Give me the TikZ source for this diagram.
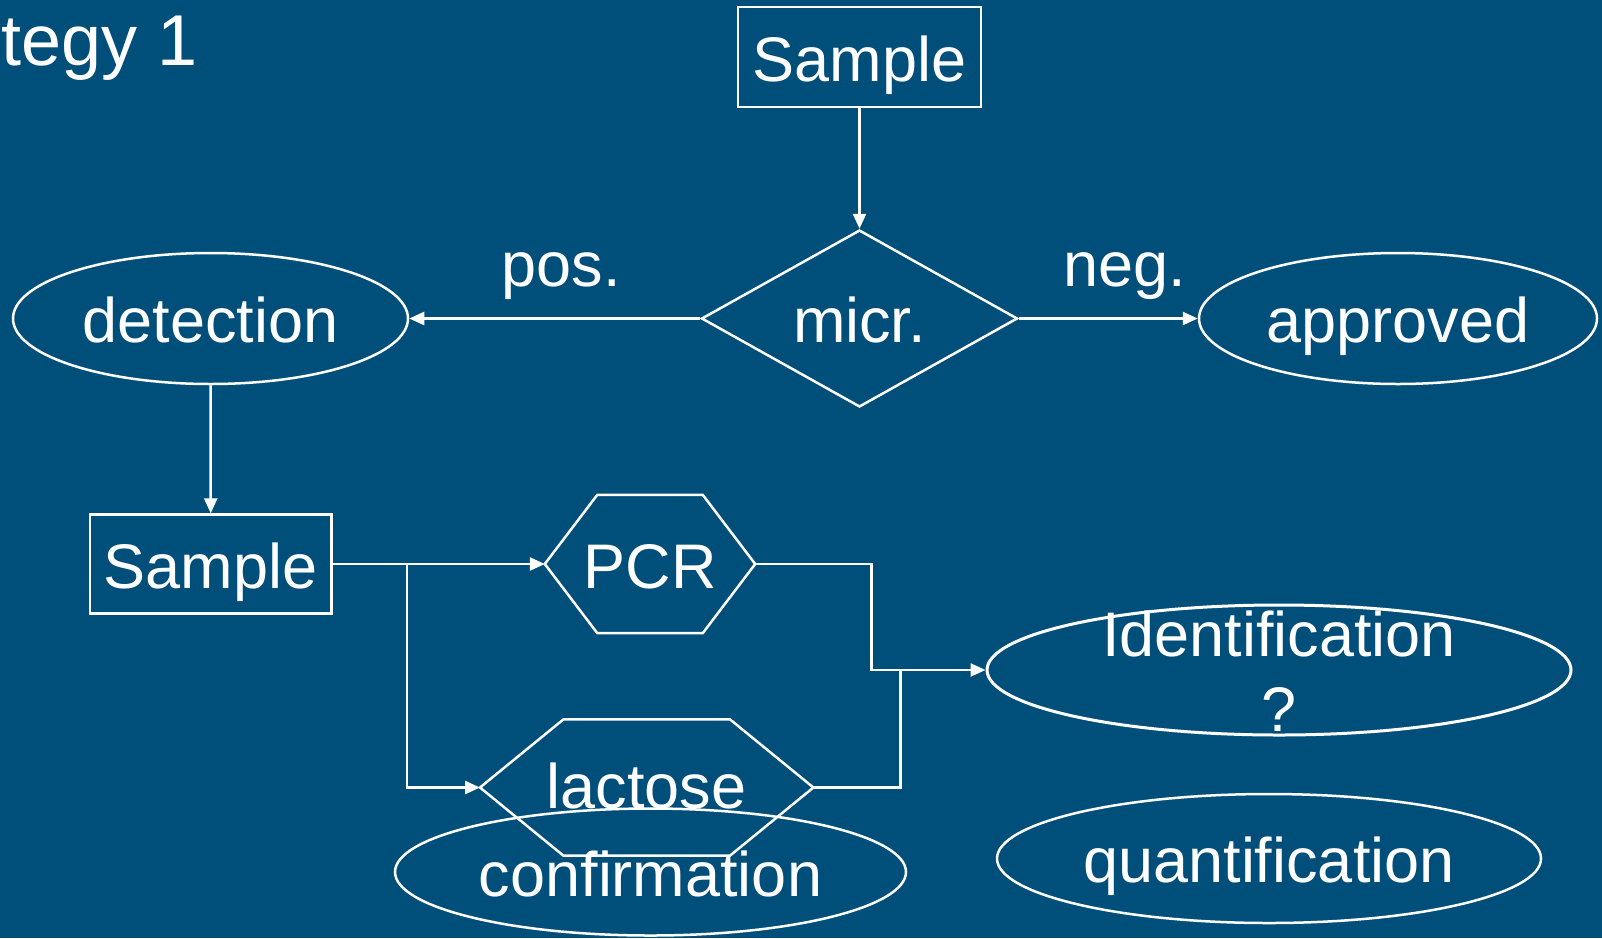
\documentclass[tikz,border=0pt]{standalone}
\usepackage{fontspec}
\setmainfont{Liberation Sans}
\usetikzlibrary{arrows.meta,shapes.geometric,calc}
\definecolor{bgblue}{RGB}{0,78,122}
\begin{document}
\begin{tikzpicture}[x=1pt,y=-1pt,
  every node/.style={text=white, font=\fontsize{63}{74.5}\selectfont},
  ln/.style={draw=white, line width=2.5pt},
  arr/.style={draw=white, line width=2.5pt, -{Triangle[length=15pt,width=13pt]}},
  boxnode/.style={ln, rectangle, inner sep=0pt, text height=48pt, text depth=0pt},
  ellnode/.style={ln, ellipse, inner sep=0pt, text height=48pt, text depth=0pt},
  decnode/.style={ln, diamond, aspect=1.8, inner sep=0pt, text height=48pt, text depth=0pt},
  hexnode/.style={rectangle, inner sep=0pt, text height=48pt, text depth=0pt},
  lbl/.style={inner sep=0pt, anchor=base}
]
\fill[bgblue] (0,0) rectangle (1602,938);
\clip (0,0) rectangle (1602,938);

% title (left part cut off in the reference)
\node[inner sep=0pt, anchor=base west, font=\fontsize{72}{86}\selectfont] (title) at (1,65) {tegy 1};

% top part
\node[boxnode, minimum width=243pt, minimum height=100pt] (smp1) at (859.5,57) {Sample};
\node[decnode, minimum width=316pt, minimum height=177pt] (micr) at (859.5,318.5) {micr.};
\node[ellnode, minimum width=395pt, minimum height=131pt] (det) at (210.5,318.5) {detection};
\node[ellnode, minimum width=398pt, minimum height=131pt] (appr) at (1398,318.5) {approved};
\node[lbl] (pos) at (561,286) {pos.};
\node[lbl] (neg) at (1125,286) {neg.};

\draw[arr] (smp1.south) -- (micr.north);
\draw[arr] (micr.west) -- (det.east);
\draw[arr] (micr.east) -- (appr.west);

% lower part
\node[boxnode, minimum width=241.5pt, minimum height=99pt] (smp2) at (210.75,564) {Sample};
\draw[arr] (det.south) -- (smp2.north);

\node[hexnode, minimum width=210pt, minimum height=138pt] (pcr) at (650,564) {PCR};
\draw[ln, line join=miter] (pcr.west) -- ($(pcr.north west)+(52.5,0)$) -- ($(pcr.north east)+(-52.5,0)$)
  -- (pcr.east) -- ($(pcr.south east)+(-52.5,0)$) -- ($(pcr.south west)+(52.5,0)$) -- cycle;

\node[hexnode, minimum width=333pt, minimum height=136pt, text height=41pt] (lac) at (646.7,787.5) {lactose};
\draw[ln, line join=miter] (lac.west) -- ($(lac.north west)+(83.5,0)$) -- ($(lac.north east)+(-83.5,0)$)
  -- (lac.east) -- ($(lac.south east)+(-83.5,0)$) -- ($(lac.south west)+(83.5,0)$) -- cycle;

\node[ellnode, minimum width=511pt, minimum height=127pt] (conf) at (650.5,872) {confirmation};

\node[ln, ellipse, inner sep=0pt, minimum width=584pt, minimum height=130pt, line width=3pt] (ident) at (1279,670) {};
\node[align=center, inner sep=0pt] (identtxt) at ($(ident.center)+(0,1)$) {Identification\\?};

\node[ellnode, minimum width=544pt, minimum height=129pt] (quant) at (1269,858.5) {quantification};

\coordinate (br) at (407,564);
\coordinate (jx) at (871.5,670);
\coordinate (jy) at (900.5,670);

\draw[arr] (smp2.east) -- (pcr.west);
\draw[arr] (br) |- (lac.west);
\draw[arr] (pcr.east) -| (jx) -- (ident.west);
\draw[ln] (lac.east) -| (jy);
\end{tikzpicture}
\end{document}
